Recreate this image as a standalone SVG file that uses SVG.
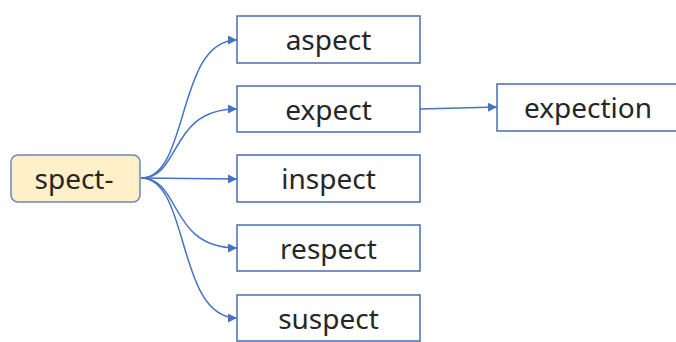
<svg xmlns="http://www.w3.org/2000/svg" width="676" height="342" viewBox="0 0 676 342">
<defs>
<style>
.box{fill:#ffffff;stroke:#4A6DB0;stroke-width:1.5}
.root{fill:#FFF0C9;stroke:#6F86B5;stroke-width:1.5}
.lbl{font-family:"Noto Sans","Open Sans",sans-serif;font-size:28px;fill:#262626;text-anchor:middle}
.edge{fill:none;stroke:#4472C4;stroke-width:1.5;marker-end:url(#arr)}
</style>
<marker id="arr" viewBox="0 0 10 10" refX="10" refY="5" markerWidth="11" markerHeight="9" markerUnits="userSpaceOnUse" orient="auto">
<path d="M0,0 L10,5 L0,10 z" fill="#4472C4"/>
</marker>
</defs>
<rect width="676" height="342" fill="#ffffff"/>
<g id="connectors">
<path class="edge" d="M141,178 C190,178 176,40 237,40"/>
<path class="edge" d="M141,178 C182,178 168,109 237,109"/>
<path class="edge" d="M141,178 L237,179"/>
<path class="edge" d="M141,178 C182,178 168,248 237,248"/>
<path class="edge" d="M141,178 C190,178 176,318 237,318"/>
<path class="edge" d="M420,109 L497,107"/>
</g>
<g id="spect">
<rect class="root" x="11" y="155" width="129" height="47" rx="7"/>
<text class="lbl" x="74" y="188.5">spect-</text>
</g>
<g id="aspect">
<rect class="box" x="237" y="16" width="183" height="47"/>
<text class="lbl" x="328.5" y="50">aspect</text>
</g>
<g id="expect">
<rect class="box" x="237" y="86" width="183" height="46"/>
<text class="lbl" x="328.5" y="119.5">expect</text>
</g>
<g id="inspect">
<rect class="box" x="237" y="155" width="183" height="47"/>
<text class="lbl" x="328.5" y="189">inspect</text>
</g>
<g id="respect">
<rect class="box" x="237" y="225" width="183" height="46"/>
<text class="lbl" x="328.5" y="258.5">respect</text>
</g>
<g id="suspect">
<rect class="box" x="237" y="295" width="183" height="46"/>
<text class="lbl" x="328.5" y="328.5">suspect</text>
</g>
<g id="expection">
<rect class="box" x="497" y="84" width="190" height="47"/>
<text class="lbl" x="588" y="118">expection</text>
</g>
</svg>
